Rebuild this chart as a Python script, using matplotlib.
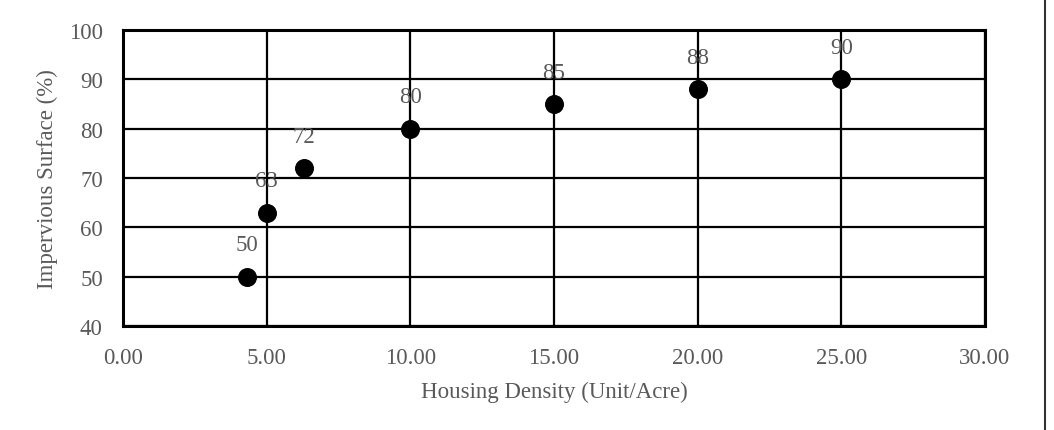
import matplotlib.pyplot as plt
from matplotlib.lines import Line2D

density = [4.3, 5.0, 6.3, 10.0, 15.0, 20.0, 25.0]
impervious = [50, 63, 72, 80, 85, 88, 90]
x_ticks = [0, 5, 10, 15, 20, 25, 30]
y_ticks = [40, 50, 60, 70, 80, 90, 100]

plt.rcParams["font.family"] = ["Liberation Serif", "DejaVu Serif"]
GREY = "#595959"
FS = 16.5

fig = plt.figure(figsize=(10.54, 4.31), dpi=100)
ax = fig.add_axes([123 / 1054, 1 - 327 / 431, (985 - 123) / 1054, (327 - 31) / 431])

ax.scatter(density, impervious, s=160, color="black", zorder=3, clip_on=False)
for x, y in zip(density, impervious):
    ax.annotate(str(y), (x, y), xytext=(0, 23), textcoords="offset points",
                ha="center", va="center", fontsize=FS, color=GREY, zorder=4)

ax.set_xlim(0, 30)
ax.set_ylim(40, 100)
ax.set_xticks(x_ticks)
ax.set_xticklabels([f"{t:.2f}" for t in x_ticks])
ax.set_yticks(y_ticks)
ax.tick_params(length=0, labelsize=FS, colors=GREY)
ax.tick_params(axis="x", pad=15)
ax.tick_params(axis="y", pad=14.5)
ax.grid(True, color="black", linewidth=1.6, zorder=1)
ax.set_axisbelow(True)
for sp in ax.spines.values():
    sp.set_linewidth(2.2)
    sp.set_color("black")

ax.set_xlabel("Housing Density (Unit/Acre)", fontsize=FS, color=GREY, labelpad=9)
ax.set_ylabel("Impervious Surface (%)", fontsize=FS, color=GREY, labelpad=8)

fig.add_artist(Line2D([1045 / 1054, 1045 / 1054], [0, 1], color="#333333", linewidth=1.5))

fig.savefig("out.png", dpi=100)
